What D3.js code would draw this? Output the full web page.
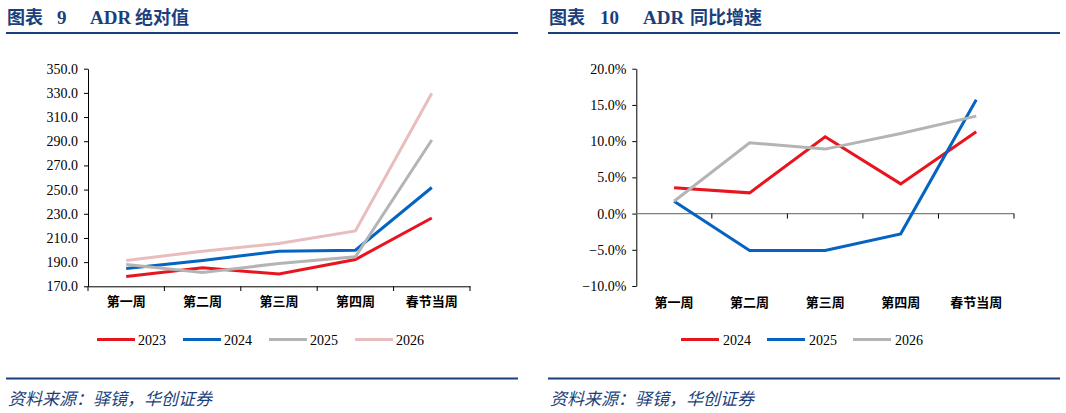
<!DOCTYPE html>
<html><head><meta charset="utf-8">
<script src="https://cdn.jsdelivr.net/npm/d3@7"></script>
<style>body{margin:0;background:#fff}svg{display:block}</style>
</head><body>
<svg id="c" width="1066" height="413"></svg>
<script>
const categories = ["第一周","第二周","第三周","第四周","春节当周"];
const leftSeriesNames = ["2023","2024","2025","2026"];
const adr2023 = [178.2, 185.3, 180.1, 192.2, 226.5];
const adr2024 = [184.8, 191.4, 199.0, 199.9, 251.7];
const adr2025 = [188.1, 181.5, 188.9, 194.4, 291.0];
const adr2026 = [191.4, 199.0, 205.4, 215.8, 329.7];
const leftTicks = [170,190,210,230,250,270,290,310,330,350];

const rightSeriesNames = ["2024","2025","2026"];
const yoy2024 = [3.55, 2.86, 10.6, 4.1, 11.3];
const yoy2025 = [1.7, -5.1, -5.1, -2.8, 15.7];
const yoy2026 = [1.7, 9.77, 8.9, 11.06, 13.45];
const rightTicks = [-10,-5,0,5,10,15,20];

const svg = d3.select("#c");
const navy = "#1B3F7C";
const serif = "'Liberation Serif','Times New Roman',serif";
const cjk = "'Noto Sans CJK SC','Noto Sans CJK JP',sans-serif";

function header(x0, x1, parts){
  const t = svg.append("text").attr("y", 24).attr("fill", navy).attr("font-weight", "bold").attr("font-size", 18);
  parts.forEach(p => {
    t.append("tspan").attr("x", p[0]).attr("font-family", p[2] ? serif : cjk)
      .attr("font-size", p[2] ? 19 : 18).text(p[1]);
  });
  svg.append("line").attr("x1", x0).attr("x2", x1).attr("y1", 33).attr("y2", 33)
    .attr("stroke", navy).attr("stroke-width", 2);
  svg.append("line").attr("x1", x0).attr("x2", x1).attr("y1", 378.5).attr("y2", 378.5)
    .attr("stroke", navy).attr("stroke-width", 2);
  svg.append("text").attr("x", x0+2).attr("y", 405).attr("fill", navy)
    .attr("font-family", cjk).attr("font-style", "italic").attr("font-size", 17)
    .text("资料来源：驿镜，华创证券");
}
header(6, 518, [[7,"图表"],[57,"9",true],[90,"ADR",true],[135,"绝对值"]]);
header(548, 1060, [[549,"图表"],[600,"10",true],[643,"ADR",true],[690,"同比增速"]]);

const colorsL = ["#E8141E","#0563C1","#B4B4B4","#E8BDBD"];
const colorsR = ["#E8141E","#0563C1","#B4B4B4"];

// Left chart
{
  const x = d3.scaleBand().domain(categories).range([88, 470]);
  const y = d3.scaleLinear().domain([170, 350]).range([286.3, 68.7]);
  const g = svg.append("g");
  const ya = g.append("g").attr("transform", "translate(88,0)")
    .call(d3.axisLeft(y).tickValues(leftTicks).tickFormat(d3.format(".1f")).tickSize(4).tickSizeOuter(0));
  ya.selectAll("text").attr("font-family", serif).attr("font-size", 14).attr("fill", "#000").attr("dx", -3);
  ya.select(".domain").attr("stroke", "#000");
  ya.selectAll(".tick line").attr("stroke", "#000");
  const xa = g.append("g").attr("transform", "translate(0,286.3)")
    .call(d3.axisBottom(x).tickSize(0).tickSizeOuter(0));
  xa.select(".domain").attr("stroke", "#000");
  xa.selectAll("text").attr("font-family", cjk).attr("font-weight", "bold").attr("font-size", 13).attr("fill", "#000").attr("dy", "1.25em");
  const bounds = categories.map(c => x(c)).concat([x.range()[1]]);
  g.selectAll(".bt").data(bounds).join("line").attr("x1", d=>d).attr("x2", d=>d)
    .attr("y1", 286.3).attr("y2", 291).attr("stroke", "#000");
  const series = [adr2023, adr2024, adr2025, adr2026];
  const line = d3.line().x((d,i)=>x(categories[i]) + x.bandwidth()/2).y(d=>y(d));
  series.forEach((s, k) => {
    g.append("path").datum(s).attr("d", line).attr("fill", "none")
      .attr("stroke", colorsL[k]).attr("stroke-width", 3).attr("stroke-linejoin", "miter");
  });
  const lx = [97, 183, 269, 355];
  leftSeriesNames.forEach((n, k) => {
    svg.append("line").attr("x1", lx[k]).attr("x2", lx[k]+38).attr("y1", 339.5).attr("y2", 339.5)
      .attr("stroke", colorsL[k]).attr("stroke-width", 3);
    svg.append("text").attr("x", lx[k]+41).attr("y", 344.5).attr("font-family", serif)
      .attr("font-size", 14).attr("fill", "#000").text(n);
  });
}

// Right chart
{
  const x = d3.scaleBand().domain(categories).range([636.3, 1014]);
  const y = d3.scaleLinear().domain([-10, 20]).range([286, 68.7]);
  const g = svg.append("g");
  const ya = g.append("g").attr("transform", "translate(636.3,0)")
    .call(d3.axisLeft(y).tickValues(rightTicks).tickFormat(d => d3.format(".1f")(d) + "%").tickSize(4).tickSizeOuter(0));
  ya.selectAll("text").attr("font-family", serif).attr("font-size", 14).attr("fill", "#000").attr("dx", -3);
  ya.select(".domain").attr("stroke", "#000");
  ya.selectAll(".tick line").attr("stroke", "#000");
  const y0 = y(0);
  g.append("line").attr("x1", 636.3).attr("x2", 1014).attr("y1", y0).attr("y2", y0).attr("stroke", "#7F7F7F").attr("stroke-width", 1.3);
  const bounds = categories.map(c => x(c)).slice(1).concat([x.range()[1]]);
  g.selectAll(".bt").data(bounds).join("line").attr("x1", d=>d).attr("x2", d=>d)
    .attr("y1", y0).attr("y2", y0+5).attr("stroke", "#000");
  g.selectAll(".xl").data(categories).join("text")
    .attr("x", d => x(d) + x.bandwidth()/2).attr("y", 307).attr("text-anchor", "middle")
    .attr("font-family", cjk).attr("font-weight", "bold").attr("font-size", 13).attr("fill", "#000").text(d=>d);
  const series = [yoy2024, yoy2025, yoy2026];
  const line = d3.line().x((d,i)=>x(categories[i]) + x.bandwidth()/2).y(d=>y(d));
  series.forEach((s, k) => {
    g.append("path").datum(s).attr("d", line).attr("fill", "none")
      .attr("stroke", colorsR[k]).attr("stroke-width", 3);
  });
  const lx = [681, 767, 853];
  rightSeriesNames.forEach((n, k) => {
    svg.append("line").attr("x1", lx[k]).attr("x2", lx[k]+38).attr("y1", 339.5).attr("y2", 339.5)
      .attr("stroke", colorsR[k]).attr("stroke-width", 3);
    svg.append("text").attr("x", lx[k]+42).attr("y", 344.5).attr("font-family", serif)
      .attr("font-size", 14).attr("fill", "#000").text(n);
  });
}
</script>
</body></html>
